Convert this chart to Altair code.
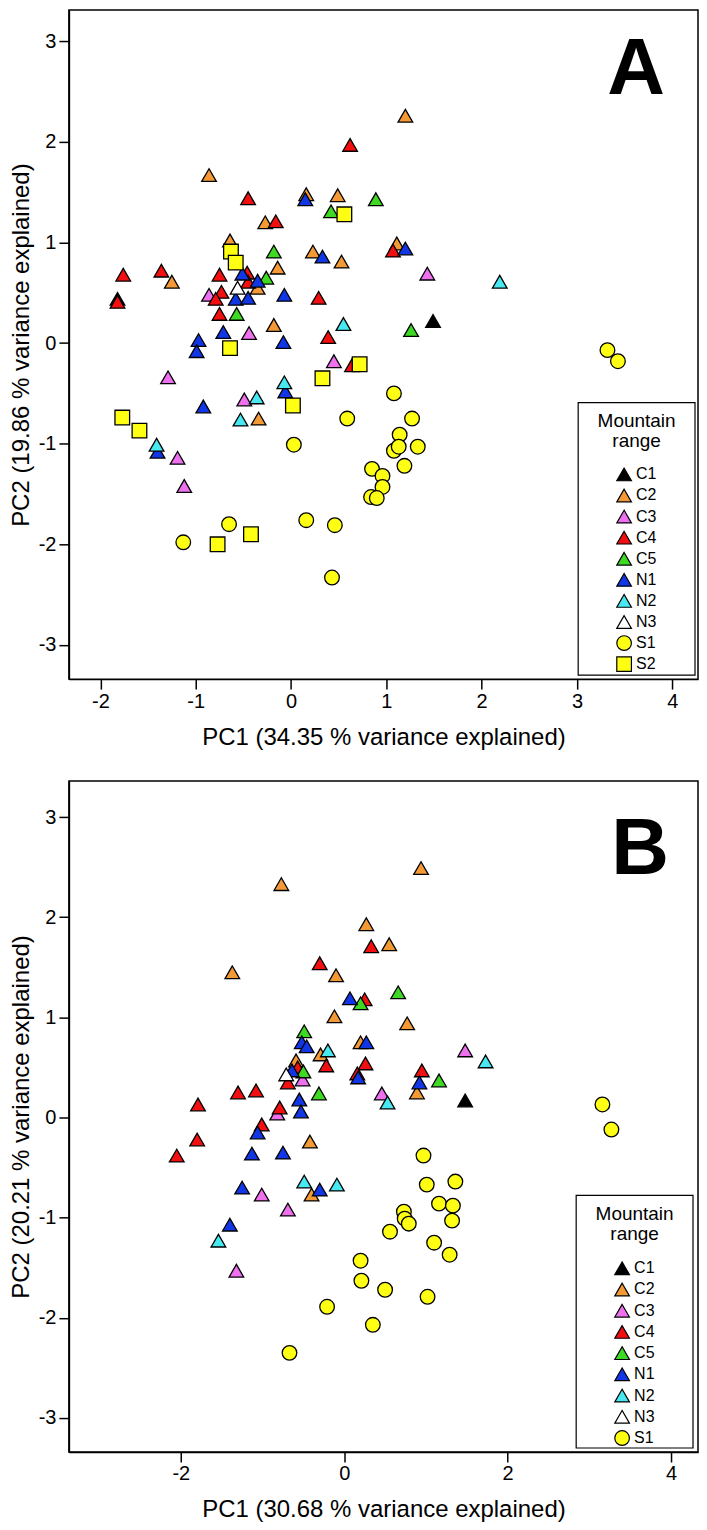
import altair as alt
import pandas as pd

# ---------------- data ----------------
GROUPS_A = ["C1", "C2", "C3", "C4", "C5", "N1", "N2", "N3", "S1", "S2"]
GROUPS_B = ["C1", "C2", "C3", "C4", "C5", "N1", "N2", "N3", "S1"]

# Panel A
A_C1_PC1 = [1.49, -1.82]
A_C1_PC2 = [0.22, 0.44]
A_C2_PC1 = [-0.86, 0.16, 0.49, -0.27, -0.64, 0.23, 0.53, -0.14, -1.25, -0.35, -0.18, -0.34, 1.20, 1.11]
A_C2_PC2 = [1.67, 1.48, 1.47, 1.20, 1.02, 0.91, 0.81, 0.75, 0.61, 0.55, 0.18, -0.75, 2.26, 0.99]
A_C3_PC1 = [-0.86, -0.44, 0.45, -1.29, -0.49, -1.19, -1.12, 1.43]
A_C3_PC2 = [0.48, 0.10, -0.18, -0.34, -0.56, -1.14, -1.42, 0.69]
A_C4_PC1 = [0.62, -0.45, -0.16, -1.76, -1.36, -0.75, -0.46, -0.45, -0.73, -0.79, 0.29, -1.82, -0.75, 0.39, 0.64, 1.07]
A_C4_PC2 = [1.97, 1.44, 1.21, 0.68, 0.72, 0.68, 0.70, 0.61, 0.51, 0.44, 0.45, 0.41, 0.29, 0.06, -0.22, 0.92]
A_C5_PC1 = [0.89, 0.42, -0.18, -0.26, -0.57, 1.26]
A_C5_PC2 = [1.43, 1.31, 0.91, 0.65, 0.29, 0.13]
A_N1_PC1 = [0.15, 0.33, -0.51, -0.35, -0.58, -0.45, -0.07, -0.71, -0.97, -0.99, -0.08, -0.06, -0.92, -1.40, 1.20]
A_N1_PC2 = [1.43, 0.86, 0.69, 0.62, 0.44, 0.45, 0.48, 0.11, 0.03, -0.08, 0.01, -0.48, -0.63, -1.08, 0.94]
A_N2_PC1 = [0.55, -0.07, -0.36, -0.53, -1.41, 2.19]
A_N2_PC2 = [0.19, -0.39, -0.54, -0.76, -1.01, 0.61]
A_N3_PC1 = [-0.56]
A_N3_PC2 = [0.55]
A_S1_PC1 = [0.59, 0.03, -0.65, -1.13, 0.16, 0.46, 0.43, 3.32, 3.43, 1.08, 1.27, 1.14, 1.08, 1.13, 1.33, 1.19, 0.85, 0.96, 0.96, 0.84, 0.90]
A_S1_PC2 = [-0.75, -1.01, -1.80, -1.98, -1.76, -1.81, -2.33, -0.07, -0.18, -0.50, -0.75, -0.91, -1.07, -1.03, -1.03, -1.22, -1.25, -1.32, -1.43, -1.53, -1.54]
A_S2_PC1 = [0.56, -0.63, -0.58, -0.64, 0.72, 0.33, 0.02, -1.77, -1.59, -0.77, -0.42]
A_S2_PC2 = [1.28, 0.91, 0.80, -0.05, -0.21, -0.35, -0.62, -0.74, -0.87, -2.00, -1.90]

# Panel B
B_C1_PC1 = [1.48]
B_C1_PC2 = [0.17]
B_C2_PC1 = [-0.77, 0.27, -1.37, -0.10, -0.12, 0.20, -0.29, -0.59, -0.42, -0.40, 0.94, 0.55, 0.77, 0.89]
B_C2_PC2 = [2.33, 1.93, 1.45, 1.42, 1.01, 0.75, 0.63, 0.57, -0.24, -0.77, 2.49, 1.73, 0.94, 0.25]
B_C3_PC1 = [-0.51, -0.82, -1.01, -0.69, -1.32, 1.48, 0.46]
B_C3_PC2 = [0.38, 0.04, -0.77, -0.92, -1.53, 0.67, 0.24]
B_C4_PC1 = [0.33, -0.30, 0.25, -0.22, 0.26, -0.57, 0.16, -0.69, -1.30, -1.08, -1.79, -0.79, -1.01, -1.80, -2.05, 0.95]
B_C4_PC2 = [1.71, 1.54, 1.18, 0.52, 0.54, 0.50, 0.44, 0.35, 0.25, 0.27, 0.13, 0.10, -0.07, -0.22, -0.38, 0.47]
B_C5_PC1 = [0.20, -0.49, -0.50, -0.31, 0.66, 1.16]
B_C5_PC2 = [1.14, 0.86, 0.46, 0.24, 1.25, 0.37]
B_N1_PC1 = [0.07, -0.52, -0.46, 0.27, -0.64, 0.17, -0.55, -0.53, -1.06, -1.13, -0.75, -0.30, -1.25, -1.40, 0.92]
B_N1_PC2 = [1.19, 0.75, 0.71, 0.75, 0.47, 0.40, 0.18, 0.06, -0.15, -0.36, -0.35, -0.72, -0.70, -1.07, 0.35]
B_N2_PC1 = [-0.20, -0.49, -0.09, -1.54, 1.73, 0.53]
B_N2_PC2 = [0.67, -0.64, -0.67, -1.23, 0.56, 0.15]
B_N3_PC1 = [-0.71]
B_N3_PC2 = [0.43]
B_S1_PC1 = [3.16, 3.27, 0.97, 1.01, 1.36, 1.16, 1.33, 1.32, 0.73, 0.74, 0.79, 0.56, 1.10, 1.29, 0.20, 0.21, 0.50, 1.02, -0.21, 0.35, -0.67]
B_S1_PC2 = [0.13, -0.12, -0.38, -0.67, -0.64, -0.86, -0.88, -1.03, -0.94, -1.01, -1.06, -1.14, -1.25, -1.37, -1.43, -1.63, -1.72, -1.79, -1.89, -2.07, -2.35]

A_XTICKS = [-2, -1, 0, 1, 2, 3, 4]
B_XTICKS = [-2, 0, 2, 4]
YTICKS = [-3, -2, -1, 0, 1, 2, 3]
LEGEND_TITLE = "Mountain\nrange"

# ---------------- styling ----------------
COLORS = {"C1": "#000000", "C2": "#F39A36", "C3": "#EE70EE", "C4": "#F20F0F",
          "C5": "#3DD923", "N1": "#1036E6", "N2": "#48E8F0", "N3": "#FFFFFF",
          "S1": "#FFFF14", "S2": "#FFFF14"}
SHAPES = {g: "triangle-up" for g in ["C1", "C2", "C3", "C4", "C5", "N1", "N2", "N3"]}
SHAPES.update({"S1": "circle", "S2": "square"})
SIZES = {g: 215 for g in ["C1", "C2", "C3", "C4", "C5", "N1", "N2", "N3"]}
SIZES.update({"S1": 190, "S2": 125})

FONT = "Liberation Sans"


def build_df(prefix, groups):
    rows = []
    g = globals()
    for grp in groups:
        xs = g[f"{prefix}_{grp}_PC1"]
        ys = g[f"{prefix}_{grp}_PC2"]
        for x, y in zip(xs, ys):
            rows.append({"group": grp, "pc1": x, "pc2": y})
    return pd.DataFrame(rows)


def panel(df, groups, xdom, ydom, xticks, width, height, xtitle, ytitle,
          letter, lx, ly, box, title_y, entry_y, sym_x, lab_x):
    color = alt.Color("group:N", scale=alt.Scale(domain=groups, range=[COLORS[g] for g in groups]), legend=None)
    shape = alt.Shape("group:N", scale=alt.Scale(domain=groups, range=[SHAPES[g] for g in groups]), legend=None)
    size = alt.Size("group:N", scale=alt.Scale(domain=groups, range=[SIZES[g] for g in groups]), legend=None)

    pts = alt.Chart(df).mark_point(filled=True, stroke="black", strokeWidth=1.3, opacity=1).encode(
        x=alt.X("pc1:Q", scale=alt.Scale(domain=xdom, nice=False, zero=False),
                axis=alt.Axis(values=xticks, title=xtitle, labelExpr="'' + datum.value")),
        y=alt.Y("pc2:Q", scale=alt.Scale(domain=ydom, nice=False, zero=False),
                axis=alt.Axis(values=YTICKS, title=ytitle, labelExpr="'' + datum.value")),
        color=color, shape=shape, size=size,
    )
    letter_mark = alt.Chart(pd.DataFrame({"t": [letter]})).mark_text(
        font=FONT, fontSize=80, fontWeight="bold", align="center", baseline="alphabetic", color="black"
    ).encode(text="t:N", x=alt.value(lx), y=alt.value(ly))

    # legend (box, title, symbols and labels)
    one = pd.DataFrame({"t": [LEGEND_TITLE]})
    leg_df = pd.DataFrame({"group": groups})
    bx0, bx1, by0, by1 = box
    box_mark = alt.Chart(one).mark_rect(fill="white", stroke="black", strokeWidth=1.2).encode(
        x=alt.value(bx0), x2=alt.value(bx1), y=alt.value(by0), y2=alt.value(by1))
    title_mark = alt.Chart(one).mark_text(
        font=FONT, fontSize=19, lineBreak="\n", lineHeight=20, align="center",
        baseline="alphabetic", color="black"
    ).encode(text="t:N", x=alt.value((bx0 + bx1) / 2), y=alt.value(title_y))
    ly_enc = alt.Y("group:N", scale=alt.Scale(type="point", domain=groups, range=list(entry_y), padding=0), axis=None)
    sym_mark = alt.Chart(leg_df).mark_point(filled=True, stroke="black", strokeWidth=1.2, opacity=1).encode(
        x=alt.value(sym_x), y=ly_enc, color=color, shape=shape, size=size)
    lab_mark = alt.Chart(leg_df).mark_text(
        font=FONT, fontSize=16, align="left", baseline="middle", color="black"
    ).encode(x=alt.value(lab_x), y=ly_enc, text="group:N")

    return alt.layer(pts, box_mark, title_mark, sym_mark, lab_mark, letter_mark).resolve_scale(
        y="independent").properties(width=width, height=height)


dfA = build_df("A", GROUPS_A)
dfB = build_df("B", GROUPS_B)

pA = panel(dfA, GROUPS_A, [-2.33, 4.27], [-3.34, 3.31], A_XTICKS, 630, 670,
           "PC1 (34.35 % variance explained)", "PC2 (19.86 % variance explained)",
           "A", 568, 84, (510, 627, 393, 666), 418, (465, 655), 556, 568)
pB = panel(dfB, GROUPS_B, [-3.37, 4.33], [-3.34, 3.36], B_XTICKS, 630, 672,
           "PC1 (30.68 % variance explained)", "PC2 (20.21 % variance explained)",
           "B", 572, 93, (508, 625, 415, 668), 440, (488, 658), 554, 566)

chart = alt.vconcat(pA, pB, spacing=30).resolve_scale(
    color="independent", shape="independent", size="independent", x="independent", y="independent"
).configure(
    padding=0, background="white"
).configure_view(
    stroke="black", strokeWidth=1.5
).configure_axis(
    grid=False, domain=True, domainColor="black", domainWidth=1.5,
    ticks=True, tickColor="black", tickWidth=1.5, tickSize=10,
    labelFont=FONT, labelFontSize=20, labelColor="black", labelPadding=2,
    titleFont=FONT, titleFontSize=24, titleFontWeight="normal", titleColor="black",
).configure_axisX(titlePadding=14).configure_axisY(titlePadding=5, labelPadding=3)

chart.save("out.html", embed_options={"renderer": "svg", "actions": False})
